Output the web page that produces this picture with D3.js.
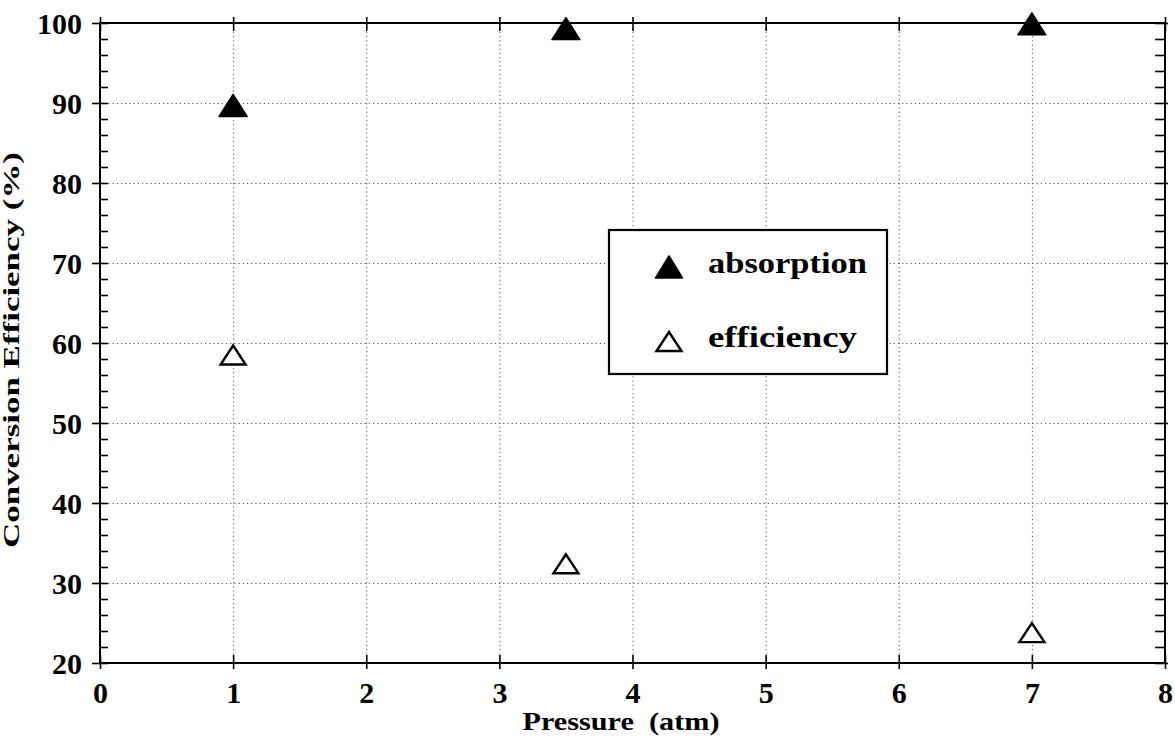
<!DOCTYPE html>
<html>
<head>
<meta charset="utf-8">
<script src="https://cdn.jsdelivr.net/npm/d3@7"></script>
<style>
  html, body { margin: 0; padding: 0; background: #fff; }
  svg { display: block; }
  svg text { font-family: "Liberation Serif", "Times New Roman", serif; font-weight: bold; fill: #000; }
</style>
</head>
<body>
<svg id="chart" width="1175" height="744"></svg>
<script>
// Conversion efficiency vs. pressure
const pressure = [1, 3.5, 7];
const absorption = [89.7, 99.3, 99.9];
const efficiency = [58.5, 32.4, 23.8];

const xTicks = [0, 1, 2, 3, 4, 5, 6, 7, 8];
const yTicks = [20, 30, 40, 50, 60, 70, 80, 90, 100];
const yMinorTicks = d3.range(20, 100.01, 2);

const seriesNames = ["absorption", "efficiency"];

const svg = d3.select("#chart");
const plotLeft = 100, plotRight = 1165, plotTop = 23, plotBottom = 663;

const x = d3.scaleLinear().domain([0, 8]).range([plotLeft, plotRight]);
const y = d3.scaleLinear().domain([20, 100]).range([plotBottom, plotTop]);

// Dotted grid at every major tick
const grid = svg.append("g").attr("class", "grid");
grid.append("g")
  .attr("transform", `translate(0,${plotBottom})`)
  .call(d3.axisBottom(x).tickValues(xTicks.slice(1, -1)).tickSize(-(plotBottom - plotTop)).tickFormat(""))
  .call(g => g.select(".domain").remove());
grid.append("g")
  .attr("transform", `translate(${plotLeft},0)`)
  .call(d3.axisLeft(y).tickValues(yTicks.slice(1, -1)).tickSize(-(plotRight - plotLeft)).tickFormat(""))
  .call(g => g.select(".domain").remove());
grid.selectAll("line")
  .attr("stroke", "#555")
  .attr("stroke-width", 1)
  .attr("stroke-dasharray", "1.2,3");

// Frame
svg.append("rect")
  .attr("x", plotLeft).attr("y", plotTop)
  .attr("width", plotRight - plotLeft).attr("height", plotBottom - plotTop)
  .attr("fill", "none").attr("stroke", "#000").attr("stroke-width", 2);

function styleAxis(g) {
  g.select(".domain").remove();
  g.selectAll(".tick line").attr("stroke", "#000").attr("stroke-width", 1.6);
}

// Left axis: labels and outward part of the major ticks
svg.append("g")
  .attr("transform", `translate(${plotLeft},0)`)
  .call(d3.axisLeft(y).tickValues(yTicks).tickSize(8).tickPadding(10).tickFormat(d3.format("d")))
  .call(styleAxis)
  .call(g => g.selectAll("text").attr("font-size", 30).attr("dy", "0.34em"));
// Left axis: inward major and minor ticks
svg.append("g")
  .attr("transform", `translate(${plotLeft},0)`)
  .call(d3.axisRight(y).tickValues(yMinorTicks).tickSize(8).tickFormat(""))
  .call(styleAxis);

// Right axis: inward ticks plus short outward major ticks
svg.append("g")
  .attr("transform", `translate(${plotRight},0)`)
  .call(d3.axisLeft(y).tickValues(yMinorTicks).tickSize(10).tickFormat(""))
  .call(styleAxis);
svg.append("g")
  .attr("transform", `translate(${plotRight},0)`)
  .call(d3.axisRight(y).tickValues(yTicks).tickSize(3).tickFormat(""))
  .call(styleAxis);

// Bottom axis: labels and crossing ticks
svg.append("g")
  .attr("transform", `translate(0,${plotBottom})`)
  .call(d3.axisBottom(x).tickValues(xTicks).tickSize(6).tickPadding(13).tickFormat(d3.format("d")))
  .call(styleAxis)
  .call(g => g.selectAll("text").attr("font-size", 30));
svg.append("g")
  .attr("transform", `translate(0,${plotBottom})`)
  .call(d3.axisTop(x).tickValues(xTicks).tickSize(8).tickFormat(""))
  .call(styleAxis);

// Top axis: crossing ticks
svg.append("g")
  .attr("transform", `translate(0,${plotTop})`)
  .call(d3.axisTop(x).tickValues(xTicks).tickSize(6).tickFormat(""))
  .call(styleAxis);
svg.append("g")
  .attr("transform", `translate(0,${plotTop})`)
  .call(d3.axisBottom(x).tickValues(xTicks).tickSize(8).tickFormat(""))
  .call(styleAxis);

// Axis titles
svg.append("text")
  .attr("x", 621).attr("y", 730)
  .attr("text-anchor", "middle")
  .attr("font-size", 25)
  .attr("textLength", 197).attr("lengthAdjust", "spacingAndGlyphs")
  .style("white-space", "pre")
  .text("Pressure  (atm)");

svg.append("text")
  .attr("transform", "translate(19,350) rotate(-90)")
  .attr("text-anchor", "middle")
  .attr("font-size", 23)
  .attr("textLength", 396).attr("lengthAdjust", "spacingAndGlyphs")
  .text("Conversion Efficiency (%)");

// Triangle marker centred on its bounding box
function tri(w, h) {
  return `M0,${-h / 2}L${w / 2},${h / 2}L${-w / 2},${h / 2}Z`;
}

const absData = pressure.map((p, i) => ({ p, v: absorption[i] }));
const effData = pressure.map((p, i) => ({ p, v: efficiency[i] }));

svg.append("g").selectAll("path")
  .data(absData).join("path")
  .attr("transform", d => `translate(${x(d.p)},${y(d.v)})`)
  .attr("d", tri(28, 22))
  .attr("fill", "#000")
  .attr("stroke", "#000").attr("stroke-width", 1.5).attr("stroke-linejoin", "round");

svg.append("g").selectAll("path")
  .data(effData).join("path")
  .attr("transform", d => `translate(${x(d.p)},${y(d.v)})`)
  .attr("d", tri(25, 19))
  .attr("fill", "#fff")
  .attr("stroke", "#000").attr("stroke-width", 2.4).attr("stroke-linejoin", "miter");

// Legend
const legend = svg.append("g");
legend.append("rect")
  .attr("x", 609).attr("y", 230).attr("width", 278).attr("height", 144)
  .attr("fill", "#fff").attr("stroke", "#000").attr("stroke-width", 2.2);

legend.append("path")
  .attr("transform", "translate(669,267)")
  .attr("d", tri(27, 22))
  .attr("fill", "#000").attr("stroke", "#000").attr("stroke-width", 1.5).attr("stroke-linejoin", "round");
legend.append("text")
  .attr("x", 708).attr("y", 273)
  .attr("font-size", 30)
  .attr("textLength", 159).attr("lengthAdjust", "spacingAndGlyphs")
  .text(seriesNames[0]);

legend.append("path")
  .attr("transform", "translate(669,341.5)")
  .attr("d", tri(25, 19))
  .attr("fill", "#fff").attr("stroke", "#000").attr("stroke-width", 2.4);
legend.append("text")
  .attr("x", 708).attr("y", 346.5)
  .attr("font-size", 30)
  .attr("textLength", 149).attr("lengthAdjust", "spacingAndGlyphs")
  .text(seriesNames[1]);
</script>
</body>
</html>
